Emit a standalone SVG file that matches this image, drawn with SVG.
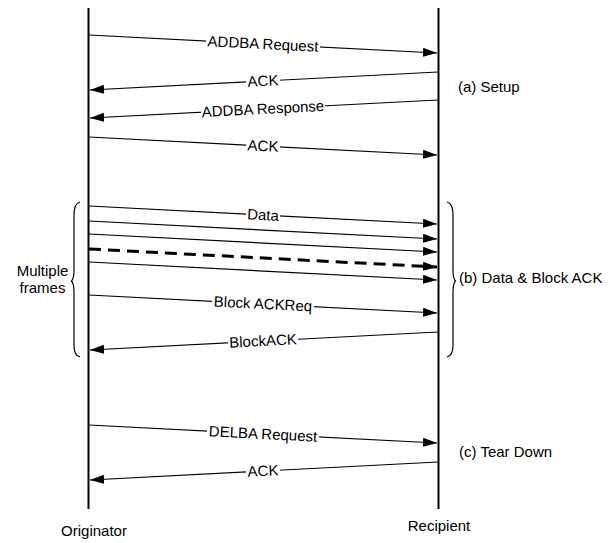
<svg xmlns="http://www.w3.org/2000/svg" width="613" height="543" viewBox="0 0 613 543">
<defs>
<marker id="ah" markerUnits="userSpaceOnUse" markerWidth="15" markerHeight="10" refX="14" refY="4.5" orient="auto">
<path d="M0,0 L14,4.5 L0,9 z" fill="#000"/>
</marker>
<style>
.lifeline{stroke:#000;stroke-width:2;fill:none}
.msg{stroke:#000;stroke-width:1.2;fill:none;marker-end:url(#ah)}
.dash{stroke:#000;stroke-width:3;fill:none;stroke-dasharray:12 7;marker-end:url(#ah)}
.lbl{font-family:"Liberation Sans",Arial,sans-serif;font-size:15px;fill:#000;text-anchor:middle}
.txt{font-family:"Liberation Sans",Arial,sans-serif;font-size:15px;fill:#000}
.bg{fill:#fff}
.brace{stroke:#000;stroke-width:1.2;fill:none}
</style>
</defs>
<rect width="613" height="543" fill="#fff"/>
<g id="originator">
<line class="lifeline" x1="88.5" y1="8" x2="88.5" y2="509"/>
<text class="txt" x="94" y="536" text-anchor="middle">Originator</text>
</g>
<g id="recipient">
<line class="lifeline" x1="438.5" y1="8" x2="438.5" y2="509"/>
<text class="txt" x="439" y="531" text-anchor="middle">Recipient</text>
</g>
<g id="connectors">
<line class="msg" x1="89" y1="35" x2="437" y2="53"/>
<line class="msg" x1="438" y1="72" x2="90" y2="90"/>
<line class="msg" x1="438" y1="100" x2="90" y2="118"/>
<line class="msg" x1="89" y1="137" x2="437" y2="155"/>
<line class="msg" x1="89" y1="206" x2="437" y2="224"/>
<line class="msg" x1="89" y1="221" x2="437" y2="239"/>
<line class="msg" x1="89" y1="234" x2="437" y2="252"/>
<line class="dash" x1="89" y1="249" x2="437" y2="267"/>
<line class="msg" x1="89" y1="262" x2="437" y2="280"/>
<line class="msg" x1="89" y1="295" x2="437" y2="313"/>
<line class="msg" x1="438" y1="332" x2="90" y2="350"/>
<line class="msg" x1="89" y1="425" x2="437" y2="443"/>
<line class="msg" x1="438" y1="462" x2="90" y2="480"/>
</g>
<g id="labels">
<g transform="rotate(2.94 263 44)"><rect class="bg" x="206" y="38" width="114" height="12"/><text class="lbl" x="263" y="49">ADDBA Request</text></g>
<g transform="rotate(-2.94 263 81)"><rect class="bg" x="246" y="75" width="34" height="12"/><text class="lbl" x="263" y="86">ACK</text></g>
<g transform="rotate(-2.94 263 109)"><rect class="bg" x="201" y="103" width="124" height="12"/><text class="lbl" x="263" y="114">ADDBA Response</text></g>
<g transform="rotate(2.94 263 146)"><rect class="bg" x="246" y="140" width="34" height="12"/><text class="lbl" x="263" y="151">ACK</text></g>
<g transform="rotate(2.94 263 215)"><rect class="bg" x="246" y="209" width="34" height="12"/><text class="lbl" x="263" y="220">Data</text></g>
<g transform="rotate(2.94 263 304)"><rect class="bg" x="212" y="298" width="102" height="12"/><text class="lbl" x="263" y="309">Block ACKReq</text></g>
<g transform="rotate(-2.94 263 341)"><rect class="bg" x="228" y="335" width="70" height="12"/><text class="lbl" x="263" y="346">BlockACK</text></g>
<g transform="rotate(2.94 263 434)"><rect class="bg" x="207" y="428" width="112" height="12"/><text class="lbl" x="263" y="439">DELBA Request</text></g>
<g transform="rotate(-2.94 263 471)"><rect class="bg" x="246" y="465" width="34" height="12"/><text class="lbl" x="263" y="476">ACK</text></g>
</g>
<g id="setup"><text class="txt" x="458" y="92">(a) Setup</text></g>
<g id="multiple-frames">
<path class="brace" d="M80,202 C75.5,203 74,208 74,215 L74,270 C74,276 73.5,279 71.5,281 C73.5,283 74,286 74,292 L74,345 C74,352 75.5,356 80,357"/>
<text class="txt" x="42.5" y="276" text-anchor="middle">Multiple</text>
<text class="txt" x="42.5" y="293" text-anchor="middle">frames</text>
</g>
<g id="data-block-ack">
<path class="brace" d="M447,202 C451.5,203 453,208 453,215 L453,270 C453,276 453.5,279 455.5,281 C453.5,283 453,286 453,292 L453,345 C453,352 451.5,356 447,357"/>
<text class="txt" x="459" y="283">(b) Data &amp; Block ACK</text>
</g>
<g id="tear-down"><text class="txt" x="459" y="457">(c) Tear Down</text></g>
</svg>
